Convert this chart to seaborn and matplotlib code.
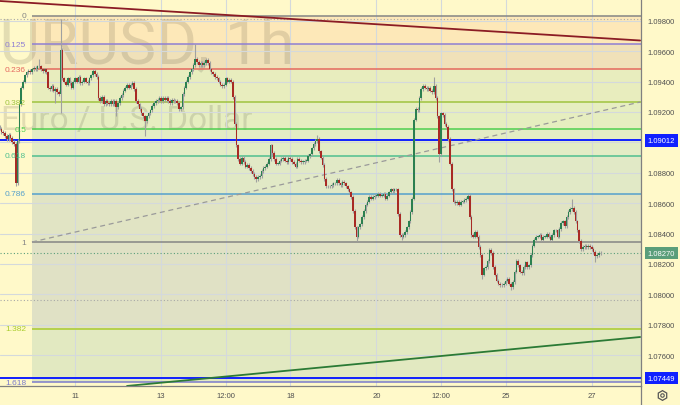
import numpy as np
import pandas as pd
import matplotlib
matplotlib.use("Agg")
import matplotlib.pyplot as plt
import seaborn as sns
from matplotlib import transforms
from matplotlib.lines import Line2D
from matplotlib.ticker import FormatStrFormatter

# hourly closes of EURUSD, price * 10000
closes = [
    10909, 10907, 10906, 10904, 10902, 10905, 10903, 10900, 10899, 10873,
    10901, 10925, 10936, 10940, 10944, 10946, 10947, 10946, 10948, 10949,
    10948, 10950, 10950, 10948, 10947, 10948, 10946, 10936, 10935, 10937,
    10934, 10935, 10933, 10932, 10961, 10942, 10940, 10938, 10942, 10939,
    10936, 10940, 10942, 10940, 10943, 10939, 10940, 10942, 10940, 10939,
    10942, 10944, 10947, 10945, 10943, 10929, 10927, 10930, 10925, 10927,
    10926, 10925, 10927, 10925, 10927, 10923, 10926, 10929, 10931, 10934,
    10936, 10938, 10936, 10938, 10939, 10935, 10927, 10925, 10922, 10919,
    10917, 10914, 10917, 10919, 10921, 10924, 10926, 10927, 10928, 10929,
    10927, 10929, 10928, 10929, 10927, 10926, 10928, 10927, 10927, 10926,
    10922, 10923, 10932, 10936, 10940, 10943, 10946, 10948, 10951, 10955,
    10953, 10951, 10952, 10951, 10952, 10954, 10952, 10948, 10946, 10945,
    10943, 10942, 10940, 10938, 10937, 10938, 10942, 10940, 10941, 10940,
    10930, 10912, 10898, 10889, 10886, 10890, 10887, 10884, 10885, 10883,
    10881, 10879, 10877, 10876, 10877, 10878, 10881, 10883, 10884, 10886,
    10889, 10898, 10893, 10889, 10886, 10886, 10888, 10889, 10890, 10888,
    10887, 10890, 10889, 10887, 10886, 10884, 10889, 10888, 10887, 10887,
    10888, 10888, 10891, 10892, 10896, 10899, 10901, 10902, 10894, 10890,
    10885, 10876, 10871, 10871, 10871, 10872, 10873, 10873, 10875, 10873,
    10872, 10874, 10873, 10871, 10869, 10867, 10864, 10855, 10844, 10838,
    10844, 10846, 10851, 10855, 10859, 10861, 10864, 10863, 10864, 10865,
    10865, 10866, 10865, 10865, 10866, 10863, 10865, 10867, 10869, 10868,
    10869, 10869, 10853, 10839, 10838, 10839, 10841, 10844, 10848, 10854,
    10863, 10915, 10922, 10921, 10929, 10935, 10937, 10936, 10935, 10936,
    10934, 10933, 10937, 10929, 10917, 10892, 10919, 10918, 10912, 10910,
    10902, 10886, 10869, 10861, 10860, 10861, 10859, 10861, 10861, 10862,
    10863, 10865, 10851, 10839, 10838, 10841, 10838, 10831, 10826, 10813,
    10817, 10818, 10822, 10829, 10827, 10818, 10813, 10809, 10807, 10806,
    10806, 10807, 10809, 10810, 10807, 10805, 10808, 10815, 10822, 10819,
    10815, 10814, 10818, 10821, 10818, 10819, 10826, 10832, 10836, 10838,
    10838, 10839, 10836, 10838, 10838, 10840, 10838, 10836, 10839, 10842,
    10842, 10838, 10843, 10847, 10848, 10845, 10851, 10854, 10856, 10857,
    10854, 10848, 10842, 10835, 10830, 10831, 10832, 10831, 10832, 10831,
    10830, 10828, 10825, 10826, 10827, 10827,
]
first_open = 10910
high_spikes = {22: 1.0955, 34: 1.0981, 109: 1.0965, 177: 1.0905, 242: 1.0943, 319: 1.0863}
low_spikes = {9: 1.0871, 31: 1.0926, 34: 1.0919, 65: 1.0917, 81: 1.0904, 143: 1.0874,
              199: 1.0835, 224: 1.0836, 245: 1.0887, 269: 1.0810, 285: 1.0803, 332: 1.0821}

tick_pos = [42, 90, 126, 162, 210, 246, 282, 330]
tick_labels = ["11", "13", "12:00", "18", "20", "12:00", "25", "27"]
price_ticks = [1.076, 1.078, 1.080, 1.082, 1.084, 1.086, 1.088, 1.090, 1.092, 1.094, 1.096, 1.098]

fib_start = 18
fib_high = 1.09833
fib_low = 1.08342
fib_levels = [0, 0.125, 0.236, 0.382, 0.5, 0.618, 0.786, 1, 1.382, 1.618]
fib_labels = ["0", "0.125", "0.236", "0.382", "0.5", "0.618", "0.786", "1", "1.382", "1.618"]
fib_colors = ["#858585", "#8f7fd3", "#e5685e", "#9fc43f", "#4fcf4f", "#4fbf8f",
              "#55a0cc", "#858585", "#a9cc2c", "#7b7bcc"]
band_colors = ["#fde8b8", "#f0e1b9", "#e8edbe", "#e6eec0", "#e3ecc5", "#e1e9c6",
               "#e1e4c4", "#e0e1c5", "#e2e9c1"]

red_line = ([0, 357], [1.0993, 1.0967])
green_line = ([71, 357], [1.07397, 1.07719])
dash_line = ([18, 357], [1.08344, 1.09265])
blue_levels = [1.09012, 1.07449]
last_price = 1.08270
dotted_levels = [1.0981, 1.0796]

BG = "#fff9c9"

sns.set_theme(style="white")
plt.rcParams["font.family"] = ["Liberation Sans", "DejaVu Sans"]

df = pd.DataFrame({"t": np.arange(len(closes)), "close": np.array(closes) / 1e4})
df["open"] = [first_open / 1e4] + list(df["close"][:-1])
df["high"] = df[["open", "close"]].max(axis=1) + 0.00012
df["low"] = df[["open", "close"]].min(axis=1) - 0.00012
for k, v in high_spikes.items():
    df.loc[k, "high"] = v
for k, v in low_spikes.items():
    df.loc[k, "low"] = v
df["up"] = df["close"] >= df["open"]

fig = plt.figure(figsize=(6.8, 4.06), dpi=100, facecolor=BG)
ax = fig.add_axes([0, 19.5 / 406, 640.5 / 680, 386.5 / 406])
ax.set_facecolor(BG)

# fib bands and levels
fib_prices = [fib_high - l * (fib_high - fib_low) for l in fib_levels]
for i, c in enumerate(band_colors):
    ax.fill_between([fib_start, 400], fib_prices[i], fib_prices[i + 1], color=c, lw=0, zorder=0.1)
for p, c, lbl in zip(fib_prices, fib_colors, fib_labels):
    ax.hlines(p, fib_start, 400, color=c, lw=1.1, zorder=1)
    ax.text(14.7, p, lbl, ha="right", va="center", color=c, fontsize=6, zorder=4)

# watermark
ax.text(-36 / 680, (406 - 63) / 406, "EURUSD, 1h", transform=fig.transFigure, family="Roboto",
        fontsize=45, color="#000000", alpha=0.11, va="baseline", ha="left", zorder=0.3, clip_on=False)
ax.text(1 / 680, (406 - 130) / 406, "Euro / U.S. Dollar", transform=fig.transFigure, family="Roboto",
        fontsize=24, color="#000000", alpha=0.11, va="baseline", ha="left", zorder=0.3, clip_on=False)

for p in dotted_levels:
    ax.axhline(p, color="#a8a8a8", lw=0.8, ls=(0, (1, 2)), zorder=1)
ax.axhline(last_price, color="#5a9e7a", lw=0.8, ls=(0, (1, 2)), zorder=1)
for p in blue_levels:
    ax.axhline(p, color="#1020ff", lw=1.4, zorder=2)

sns.lineplot(x=red_line[0], y=red_line[1], ax=ax, color="#8b1c24", lw=1.3, zorder=2)
sns.lineplot(x=green_line[0], y=green_line[1], ax=ax, color="#2b7a35", lw=1.3, zorder=2)
sns.lineplot(x=dash_line[0], y=dash_line[1], ax=ax, color="#9a9a9a", lw=0.9, ls=(0, (4, 3)), zorder=2)

# candles
ax.vlines(df["t"], df["low"], df["high"], color="#a0a0a0", lw=0.8, zorder=2.8)
body = (df["close"] - df["open"]).abs().clip(lower=0.00004)
bottom = df[["open", "close"]].min(axis=1)
cols = np.where(df["up"], "#2b8050", "#a82a24")
ax.bar(df["t"], body, bottom=bottom, width=0.9, color=cols, lw=0, zorder=3)

ax.set_xlim(0.195, 357.2)
ax.set_ylim(1.07400, 1.09943)
ax.set_xticks(tick_pos)
ax.set_xticklabels(tick_labels)
ax.set_yticks(price_ticks)
ax.yaxis.set_major_formatter(FormatStrFormatter("%.5f"))
ax.yaxis.tick_right()
ax.set_axisbelow(True)
ax.grid(True, color="#d4d9dc", lw=0.8)
ax.tick_params(axis="y", length=0, pad=5, labelsize=5.5, labelcolor="#505050")
ax.tick_params(axis="x", length=0, pad=5, labelsize=5.5, labelcolor="#505050")
ax.set_xlabel("")
ax.set_ylabel("")
for s in ["top", "left"]:
    ax.spines[s].set_visible(False)
for s in ["right", "bottom"]:
    ax.spines[s].set_color("#808080")
    ax.spines[s].set_linewidth(0.9)

# price boxes on the axis
tr = transforms.blended_transform_factory(ax.transAxes, ax.transData)
for p, fc in [(blue_levels[0], "#1020ff"), (last_price, "#5a9e7a"), (blue_levels[1], "#1020ff")]:
    ax.text(1 + 7 / 640.5, p, f"{p:.5f}", transform=tr, ha="left", va="center", color="white",
            fontsize=5.5, clip_on=False, zorder=5,
            bbox=dict(boxstyle="square,pad=0.35", fc=fc, ec="none"))

fig.add_artist(Line2D([640.5 / 680, 640.5 / 680], [0, 19.5 / 406], transform=fig.transFigure,
                      color="#808080", lw=0.9))
fig.add_artist(Line2D([662 / 680], [10 / 406], transform=fig.transFigure, marker="h", ms=7,
                      mfc="none", mec="#555555", mew=0.9))
fig.add_artist(Line2D([662 / 680], [10 / 406], transform=fig.transFigure, marker="o", ms=2.5,
                      mfc="none", mec="#555555", mew=0.8))

fig.savefig("out.png", dpi=100, facecolor=BG)
